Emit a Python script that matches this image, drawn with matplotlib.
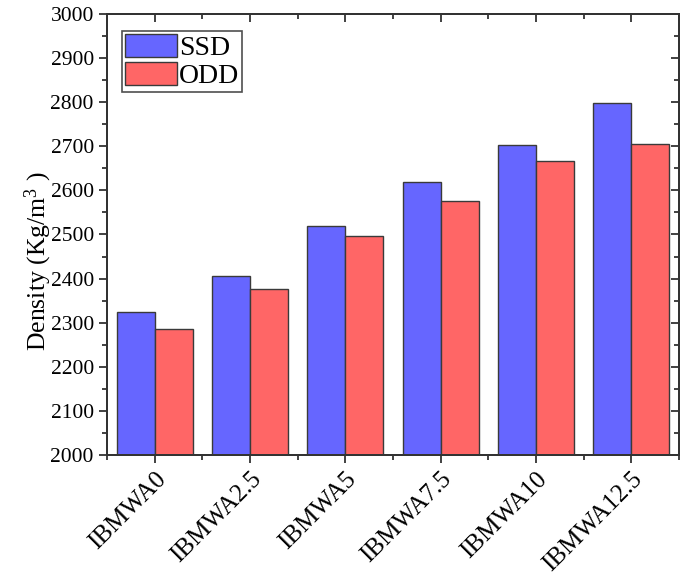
import numpy as np
import matplotlib.pyplot as plt
from matplotlib.ticker import MultipleLocator

plt.rcParams['font.family'] = ['Liberation Serif', 'DejaVu Serif']
plt.rcParams['mathtext.fontset'] = 'custom'
plt.rcParams['mathtext.rm'] = 'Liberation Serif'
plt.rcParams['mathtext.it'] = 'Liberation Serif:italic'

mixes = ['IBMWA0', 'IBMWA2.5', 'IBMWA5', 'IBMWA7.5', 'IBMWA10', 'IBMWA12.5']
ssd = [2325, 2405, 2519, 2619, 2702, 2798]
odd = [2286, 2376, 2496, 2577, 2666, 2705]

fig = plt.figure(figsize=(6.83, 5.75), dpi=100)
ax = fig.add_axes([0.1567, 0.2087, 0.8374, 0.767])

x = np.arange(len(mixes))
w = 0.4
ax.bar(x - w/2, ssd, width=w, color='#6666FF', edgecolor='#3a3a3a', linewidth=1.0, label='SSD', zorder=2)
ax.bar(x + w/2, odd, width=w, color='#FF6666', edgecolor='#3a3a3a', linewidth=1.0, label='ODD', zorder=2)

xlim = (-0.5, len(mixes) - 0.5)
ylim = (2000, 3000)
ax.set_xlim(*xlim)
ax.set_ylim(*ylim)
ax.set_xticks(x)
ax.set_xticklabels(mixes, rotation=45, ha='right', rotation_mode='anchor', fontsize=18)
ax.xaxis.set_minor_locator(MultipleLocator(0.5))
ax.yaxis.set_major_locator(MultipleLocator(100))
ax.yaxis.set_minor_locator(MultipleLocator(50))
ax.tick_params(axis='y', labelsize=15.5)
ax.tick_params(which='major', length=6, width=1.3, color='#333333', direction='out')
ax.tick_params(which='minor', length=3.5, width=1.3, color='#333333', direction='out')

# mirrored ticks on top and right, pointing inward
top = ax.twiny()
top.set_xlim(*xlim)
top.set_xticks(x)
top.xaxis.set_minor_locator(MultipleLocator(0.5))
top.tick_params(axis='x', which='both', direction='in', labeltop=False, color='#333333', width=1.3)
top.tick_params(axis='x', which='major', length=6)
top.tick_params(axis='x', which='minor', length=3.5)
right = ax.twinx()
right.set_ylim(*ylim)
right.yaxis.set_major_locator(MultipleLocator(100))
right.yaxis.set_minor_locator(MultipleLocator(50))
right.tick_params(axis='y', which='both', direction='in', labelright=False, color='#333333', width=1.3)
right.tick_params(axis='y', which='major', length=6)
right.tick_params(axis='y', which='minor', length=3.5)

for a in (ax, top, right):
    for s in a.spines.values():
        s.set_color('#333333')
        s.set_linewidth(1.4)

ax.set_ylabel(r'Density (Kg/m$^{3}$ )', fontsize=18.5)
ax.yaxis.set_label_coords(-0.093, 0.44)

leg = ax.legend(loc='upper left', bbox_to_anchor=(0.026, 0.962), fontsize=20,
                frameon=True, fancybox=False, handlelength=1.9, handleheight=0.9,
                handletextpad=0.05, labelspacing=0.05, borderpad=0.1, borderaxespad=0)
leg.get_frame().set_edgecolor('#222222')
leg.get_frame().set_linewidth(1.2)
leg.set_zorder(5)

fig.savefig('out.png', dpi=100)
